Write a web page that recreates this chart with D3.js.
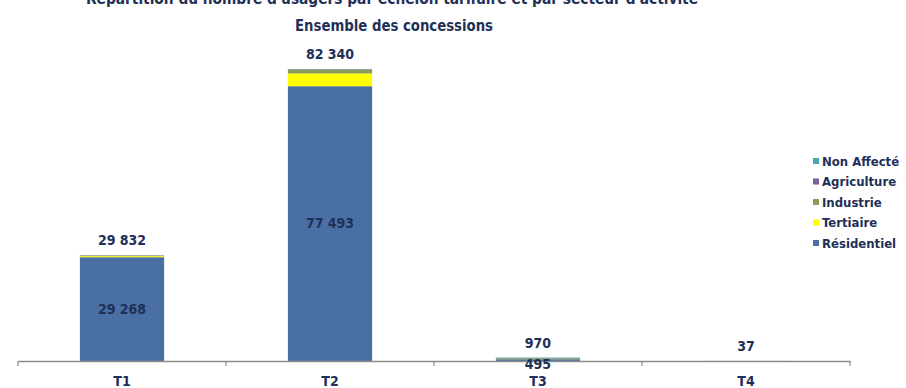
<!DOCTYPE html>
<html>
<head>
<meta charset="utf-8">
<script src="https://cdn.jsdelivr.net/npm/d3@7"></script>
<style>
  html, body { margin: 0; padding: 0; background: #ffffff; }
  svg { display: block; }
  text { font-family: "Liberation Sans Narrow", "DejaVu Sans Condensed", "Arial Narrow", sans-serif; font-weight: bold; }
</style>
</head>
<body>
<svg id="chart" width="906" height="388"></svg>
<script>
// Échelons tarifaires
const categories = ["T1", "T2", "T3", "T4"];

// Nombre d'usagers par secteur d'activité
const residentiel = [29268, 77493, 495, 0];
const tertiaire   = [300, 3600, 0, 20];
const industrie   = [200, 1100, 300, 12];
const agriculture = [40, 100, 5, 0];
const nonAffecte  = [24, 47, 170, 5];
const totals      = [29832, 82340, 970, 37];

const seriesNames  = ["Résidentiel", "Tertiaire", "Industrie", "Agriculture", "Non Affecté"];
const seriesColors = ["#4a6fa5", "#ffff00", "#8a9a5b", "#7d5f99", "#4aa5b3"];

const titleLines = [
  "Répartition du nombre d'usagers par échelon tarifaire et par secteur d'activité",
  "Ensemble des concessions"
];

const textColor = "#1f3058";
const svg = d3.select("#chart");

// Table for the stack layout
const table = categories.map((c, i) => ({
  cat: c,
  "Résidentiel": residentiel[i],
  "Tertiaire": tertiaire[i],
  "Industrie": industrie[i],
  "Agriculture": agriculture[i],
  "Non Affecté": nonAffecte[i],
  total: totals[i]
}));

const axisY = 361;
const x = d3.scaleBand().domain(categories).range([18, 850]).paddingInner(0).paddingOuter(0);
const y = d3.scaleLinear().domain([0, 82340]).range([axisY, 69]);
const barW = x.bandwidth() * 0.405;
const barX = c => x(c) + (x.bandwidth() - barW) / 2;

const stack = d3.stack().keys(seriesNames);
const layers = stack(table);

// Stacked bars
svg.append("g").selectAll("g")
  .data(layers)
  .join("g")
  .attr("fill", (d, i) => seriesColors[i])
  .selectAll("rect")
  .data(d => d)
  .join("rect")
  .attr("x", d => barX(d.data.cat))
  .attr("width", barW)
  .attr("y", d => y(d[1]))
  .attr("height", d => Math.max(0, y(d[0]) - y(d[1])));

// Axis line with category separators
const axis = d3.axisBottom(x).tickSize(0).tickPadding(15);
const gAxis = svg.append("g").attr("transform", `translate(0,${axisY})`).call(axis);
gAxis.select(".domain").attr("stroke", "#8c8c8c").attr("stroke-width", 1.3);
gAxis.selectAll(".tick text")
  .attr("fill", textColor)
  .style("font-size", "14px")
  .attr("dy", "0.71em");
const bounds = categories.map(c => x(c)).concat([x.range()[1]]);
gAxis.selectAll("line.sep")
  .data(bounds)
  .join("line")
  .attr("class", "sep")
  .attr("x1", d => d).attr("x2", d => d)
  .attr("y1", 0).attr("y2", 5)
  .attr("stroke", "#8c8c8c").attr("stroke-width", 1.2);

// Résidentiel value labels, centred in their segment
svg.append("g").selectAll("text")
  .data(layers[0].filter(d => d.data["Résidentiel"] > 0))
  .join("text")
  .attr("x", d => x(d.data.cat) + x.bandwidth() / 2)
  .attr("y", d => (y(d[0]) + y(d[1])) / 2 + (d.data["Résidentiel"] < 2000 ? 4 : 0))
  .attr("dy", "0.35em")
  .attr("text-anchor", "middle")
  .attr("fill", textColor)
  .style("font-size", "14px")
  .text(d => d3.format(",")(d.data["Résidentiel"]).replace(/,/g, " "));

// Totals above each bar
svg.append("g").selectAll("text")
  .data(table)
  .join("text")
  .attr("x", d => x(d.cat) + x.bandwidth() / 2)
  .attr("y", d => y(d.total) - 10)
  .attr("text-anchor", "middle")
  .attr("fill", textColor)
  .style("font-size", "14px")
  .text(d => d3.format(",")(d.total).replace(/,/g, " "));

// Title
svg.append("text")
  .attr("x", 392).attr("y", 4)
  .attr("text-anchor", "middle")
  .attr("fill", textColor)
  .style("font-size", "16px")
  .attr("textLength", 612).attr("lengthAdjust", "spacingAndGlyphs")
  .text(titleLines[0]);
svg.append("text")
  .attr("x", 394).attr("y", 31)
  .attr("text-anchor", "middle")
  .attr("fill", textColor)
  .style("font-size", "16px")
  .attr("textLength", 198).attr("lengthAdjust", "spacingAndGlyphs")
  .text(titleLines[1]);

// Legend (reverse stacking order, top to bottom)
const legendOrder = seriesNames.map((n, i) => ({ name: n, color: seriesColors[i] })).reverse();
const legend = svg.append("g").attr("transform", "translate(813,161)");
const item = legend.selectAll("g")
  .data(legendOrder)
  .join("g")
  .attr("transform", (d, i) => `translate(0,${i * 20.5})`);
item.append("rect")
  .attr("x", 0).attr("y", -3).attr("width", 6).attr("height", 6)
  .attr("fill", d => d.color);
item.append("text")
  .attr("x", 9).attr("y", 0).attr("dy", "0.35em")
  .attr("fill", textColor)
  .style("font-size", "13px")
  .text(d => d.name);
</script>
</body>
</html>
